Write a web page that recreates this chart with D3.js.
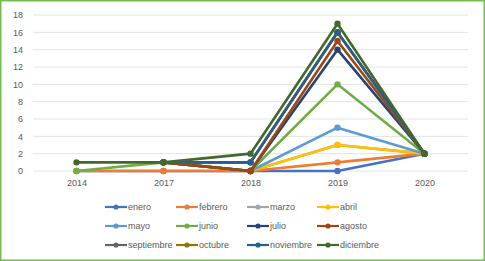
<!DOCTYPE html>
<html>
<head>
<meta charset="utf-8">
<script src="https://cdn.jsdelivr.net/npm/d3@7"></script>
<style>
  body { margin: 0; background: #fff; }
  svg { display: block; font-family: "Liberation Sans", "DejaVu Sans", sans-serif; }
</style>
</head>
<body>
<svg id="chart" width="485" height="261"></svg>
<script>
// Datos: años en el eje X, un valor por mes (null = sin dato)
const years = ['2014', '2017', '2018', '2019', '2020'];
const months = ['enero', 'febrero', 'marzo', 'abril', 'mayo', 'junio',
                'julio', 'agosto', 'septiembre', 'octubre', 'noviembre', 'diciembre'];
const enero      = [0, 0, 0, 0, 2];
const febrero    = [0, 0, 0, 1, 2];
const marzo      = [null, 1, 0, 3, 2];
const abril      = [null, 1, 0, 3, 2];
const mayo       = [null, 1, 0, 5, 2];
const junio      = [0, 1, 0, 10, 2];
const julio      = [null, 1, 0, 14, 2];
const agosto     = [null, 1, 0, 15, 2];
const septiembre = [null, 1, 1, 16, 2];
const octubre    = [null, 1, 1, 16, 2];
const noviembre  = [null, 1, 1, 16, 2];
const diciembre  = [1, 1, 2, 17, 2];
const yTicks = [0, 2, 4, 6, 8, 10, 12, 14, 16, 18];

const values = [enero, febrero, marzo, abril, mayo, junio,
                julio, agosto, septiembre, octubre, noviembre, diciembre];
const colors = ['#4472C4', '#ED7D31', '#A5A5A5', '#FFC000', '#5B9BD5', '#70AD47',
                '#264478', '#9E480E', '#636363', '#997300', '#255E91', '#43682B'];

const series = months.map((m, i) => ({
    name: m,
    color: colors[i],
    points: years.map((y, j) => ({ year: y, value: values[i][j] }))
}));

const svg = d3.select('#chart');
const W = 485, H = 261;

// Borde verde
svg.append('rect')
    .attr('x', 0.75).attr('y', 0.75)
    .attr('width', W - 1.5).attr('height', H - 1.5)
    .attr('fill', '#fff')
    .attr('stroke', '#74BD4E')
    .attr('stroke-width', 1.5);

const plot = { left: 33, right: 468, top: 15, bottom: 171 };

const x = d3.scalePoint()
    .domain(years)
    .range([plot.left, plot.right])
    .padding(0.5);

const y = d3.scaleLinear()
    .domain([0, 18])
    .range([plot.bottom, plot.top]);

// Líneas de cuadrícula
svg.append('g')
    .selectAll('line')
    .data(yTicks)
    .enter()
    .append('line')
    .attr('x1', plot.left).attr('x2', plot.right)
    .attr('y1', d => y(d)).attr('y2', d => y(d))
    .attr('stroke', '#E3E3E3')
    .attr('stroke-width', 1);

// Etiquetas eje Y
const yAxis = svg.append('g')
    .attr('transform', `translate(${plot.left - 10},0)`)
    .call(d3.axisLeft(y).tickValues(yTicks).tickSize(0).tickPadding(0));
yAxis.select('.domain').remove();
yAxis.selectAll('text')
    .attr('fill', '#595959')
    .attr('font-size', '9px');

// Etiquetas eje X
const xAxis = svg.append('g')
    .attr('transform', `translate(0,${plot.bottom})`)
    .call(d3.axisBottom(x).tickSize(0).tickPadding(9));
xAxis.select('.domain').remove();
xAxis.selectAll('text')
    .attr('fill', '#595959')
    .attr('font-size', '9px');

// Series
const line = d3.line()
    .defined(d => d.value !== null)
    .x(d => x(d.year))
    .y(d => y(d.value));

const g = svg.append('g')
    .selectAll('g')
    .data(series)
    .enter()
    .append('g');

g.append('path')
    .attr('d', d => line(d.points))
    .attr('fill', 'none')
    .attr('stroke', d => d.color)
    .attr('stroke-width', 2.6)
    .attr('stroke-linejoin', 'round');

g.selectAll('circle')
    .data(d => d.points.filter(p => p.value !== null).map(p => ({ ...p, color: d.color })))
    .enter()
    .append('circle')
    .attr('cx', d => x(d.year))
    .attr('cy', d => y(d.value))
    .attr('r', 3.2)
    .attr('fill', d => d.color);

// Leyenda (4 columnas x 3 filas)
const legendX = [105, 176, 247, 317];
const legendY = [207, 226, 245];

const legend = svg.append('g')
    .selectAll('g')
    .data(series)
    .enter()
    .append('g')
    .attr('transform', (d, i) => `translate(${legendX[i % 4]},${legendY[Math.floor(i / 4)]})`);

legend.append('line')
    .attr('x1', 0).attr('x2', 22)
    .attr('stroke', d => d.color)
    .attr('stroke-width', 2.2);

legend.append('circle')
    .attr('cx', 11).attr('r', 2.6)
    .attr('fill', d => d.color);

legend.append('text')
    .attr('x', 23)
    .attr('dy', '0.33em')
    .attr('fill', '#595959')
    .attr('font-size', '9px')
    .text(d => d.name);
</script>
</body>
</html>
